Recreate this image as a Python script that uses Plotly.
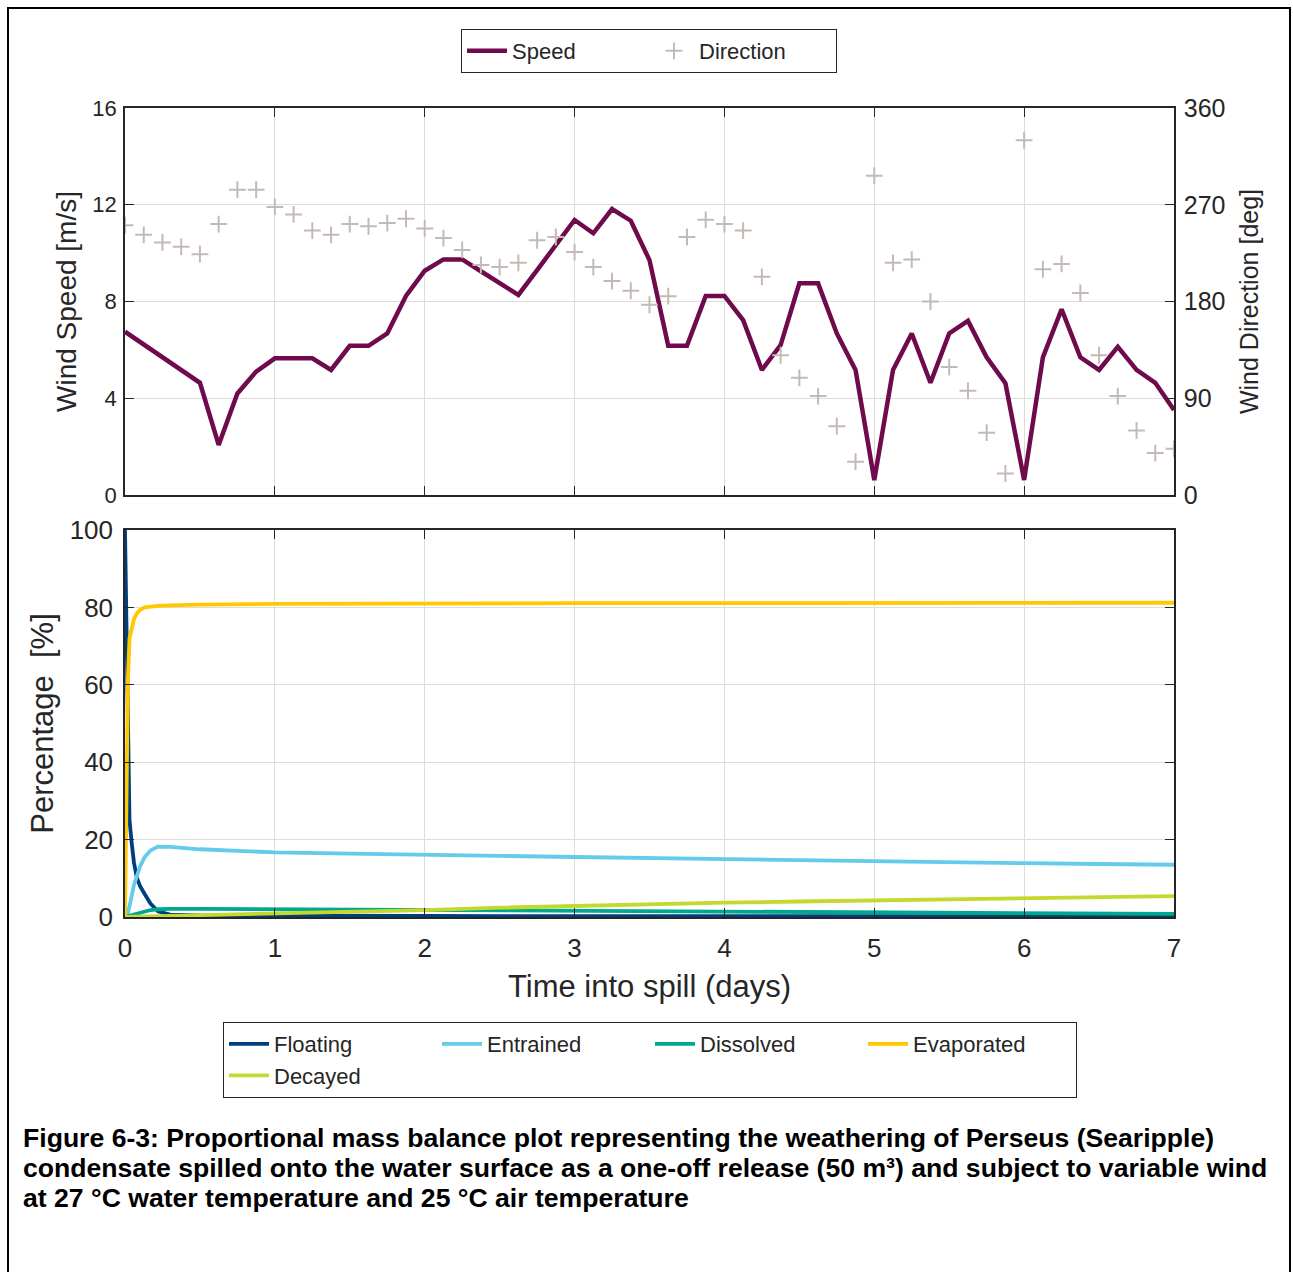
import plotly.graph_objects as go

# ---------------- data ----------------
wind_days = [0, 0.125, 0.25, 0.375, 0.5, 0.625, 0.75, 0.875, 1, 1.125, 1.25, 1.375, 1.5, 1.625, 1.75, 1.875,
             2, 2.125, 2.25, 2.375, 2.5, 2.625, 2.75, 2.875, 3, 3.125, 3.25, 3.375, 3.5, 3.625, 3.75, 3.875,
             4, 4.125, 4.25, 4.375, 4.5, 4.625, 4.75, 4.875, 5, 5.125, 5.25, 5.375, 5.5, 5.625, 5.75, 5.875,
             6, 6.125, 6.25, 6.375, 6.5, 6.625, 6.75, 6.875, 7]
wind_speed = [6.75, 6.22, 5.70, 5.17, 4.64, 2.07, 4.2, 5.1, 5.65, 5.65, 5.65, 5.17, 6.17, 6.17, 6.68, 8.23,
              9.27, 9.74, 9.74, 9.25, 8.76, 8.27, 9.3, 10.33, 11.37, 10.82, 11.82, 11.34, 9.71, 6.17, 6.17, 8.23,
              8.23, 7.23, 5.17, 6.2, 8.75, 8.75, 6.68, 5.17, 0.62, 5.17, 6.68, 4.64, 6.68, 7.2, 5.69, 4.62,
              0.62, 5.69, 7.68, 5.69, 5.17, 6.13, 5.17, 4.64, 3.51]
wind_dir = [251, 242, 235, 231, 224, 252, 284, 284, 268, 261, 246, 242, 252, 250, 253, 257,
            248, 239, 228, 214, 212, 216, 237, 240, 226, 212, 199, 190, 177, 185, 240, 256,
            252, 246, 203, 130, 109, 92, 64, 31, 297, 216, 219, 180, 119, 97, 58, 20,
            330, 210, 215, 188, 130, 92, 60, 39, 43]

mb_days = [0, 0.01, 0.02, 0.03, 0.045, 0.06, 0.08, 0.1, 0.13, 0.17, 0.22, 0.3, 0.5, 1, 1.5, 2,
           2.5, 3, 3.5, 4, 4.5, 5, 5.5, 6, 6.5, 7]
floating = [100, 72, 40, 25, 19, 14, 10, 8, 6, 3.5, 1.5, 0.6, 0.4, 0.3, 0.3, 0.3,
            0.25, 0.25, 0.2, 0.2, 0.2, 0.2, 0.2, 0.2, 0.2, 0.2]
entrained = [0, 0.3, 1, 2.5, 5.5, 8.3, 11, 13, 15.4, 17.2, 18.2, 18.1, 17.5, 16.7, 16.4, 16.0,
             15.8, 15.5, 15.2, 14.9, 14.6, 14.3, 14.1, 13.9, 13.7, 13.5]
dissolved = [0, 0.1, 0.2, 0.4, 0.6, 0.8, 1.0, 1.2, 1.5, 1.8, 2.0, 2.1, 2.1, 2.0, 1.9, 1.7,
             1.6, 1.5, 1.35, 1.25, 1.1, 1.0, 0.95, 0.9, 0.85, 0.8]
evaporated = [0, 30, 62, 72, 75, 77, 78.5, 79.3, 80, 80.2, 80.4, 80.5, 80.7, 80.9, 81.0, 81.0,
              81.0, 81.1, 81.1, 81.1, 81.1, 81.2, 81.2, 81.2, 81.2, 81.2]
decayed = [0, 0, 0, 0.01, 0.02, 0.03, 0.05, 0.07, 0.1, 0.15, 0.2, 0.3, 0.45, 0.85, 1.3, 1.8,
           2.4, 2.9, 3.3, 3.7, 4.0, 4.3, 4.6, 4.9, 5.2, 5.4]

mb_names = ["Floating", "Entrained", "Dissolved", "Evaporated", "Decayed"]
mb_colors = ["#003F7D", "#64CBEA", "#00A88E", "#FFC800", "#C4D92E"]
mb_series = [floating, entrained, dissolved, evaporated, decayed]

caption_lines = [
    "Figure 6-3: Proportional mass balance plot representing the weathering of Perseus (Searipple)",
    "condensate spilled onto the water surface as a one-off release (50 m³) and subject to variable wind",
    "at 27 °C water temperature and 25 °C air temperature",
]

# ---------------- geometry ----------------
W, H = 1293, 1272
L, R, T, B = 125, 119, 108, 355
PW, PH = W - L - R, H - T - B


def px_x(x):
    return (x - L) / PW


def px_y(y):
    return (H - B - y) / PH


FONT = "Liberation Sans, Arial, sans-serif"
AX = "#262626"
GRID = "#DCDCDC"

fig = go.Figure()

fig.add_trace(go.Scatter(x=wind_days, y=wind_speed, mode="lines", name="Speed",
                         line=dict(color="#6F0A4C", width=4.5),
                         xaxis="x", yaxis="y", legend="legend"))
fig.add_trace(go.Scatter(x=wind_days, y=wind_dir, mode="markers", name="Direction",
                         marker=dict(symbol="cross-thin", size=12,
                                     line=dict(color="#C4BAB5", width=2), color="#C4BAB5"),
                         xaxis="x", yaxis="y3", legend="legend"))

for name, col, vals in zip(mb_names, mb_colors, mb_series):
    fig.add_trace(go.Scatter(x=mb_days, y=vals, mode="lines", name=name,
                             line=dict(color=col, width=3.8),
                             xaxis="x2", yaxis="y2", legend="legend2"))


def tf(size):
    return dict(family=FONT, size=size, color="#262626")


common_x = dict(range=[0, 7], dtick=1, tick0=0, showgrid=True, gridcolor=GRID, gridwidth=1,
                showline=True, linecolor=AX, linewidth=1.5, mirror="ticks", ticks="inside",
                ticklen=9, tickcolor=AX, zeroline=False)
common_y = dict(gridcolor=GRID, gridwidth=1, showline=True, linecolor=AX,
                linewidth=1.5, ticks="inside", ticklen=9, tickcolor=AX, zeroline=False)

top_dom = [px_y(495), 1]
bot_dom = [0, px_y(530)]

fig.update_layout(
    width=W, height=H,
    margin=dict(l=L, r=R, t=T, b=B),
    paper_bgcolor="white", plot_bgcolor="white",
    font=dict(family=FONT, color="#262626"),
    xaxis=dict(**common_x, anchor="y", domain=[0, 1], showticklabels=False),
    yaxis=dict(**common_y, showgrid=True, domain=top_dom, range=[0, 16], dtick=4, mirror="ticks",
               tickfont=tf(22), ticklabelstandoff=2,
               title=dict(text="Wind Speed [m/s]", font=tf(28), standoff=8)),
    yaxis3=dict(**common_y, overlaying="y", side="right", anchor="x", range=[0, 360], dtick=90,
                showgrid=False, tickfont=tf(25), ticklabelstandoff=3,
                title=dict(text="Wind Direction [deg]", font=tf(25), standoff=16)),
    xaxis2=dict(**common_x, anchor="y2", domain=[0, 1], tickfont=tf(26), ticklabelstandoff=7,
                title=dict(text="Time into spill (days)", font=tf(31), standoff=13)),
    yaxis2=dict(**common_y, showgrid=True, domain=bot_dom, range=[0, 100], dtick=20, mirror="ticks",
                anchor="x2", tickfont=tf(26), ticklabelstandoff=5,
                title=dict(text="Percentage  [%]", font=tf(31), standoff=7)),
    legend=dict(orientation="h", x=px_x(649), y=px_y(51), xanchor="center", yanchor="middle",
                bgcolor="white", bordercolor=AX, borderwidth=1,
                font=tf(22), entrywidth=132, itemwidth=40),
    legend2=dict(orientation="h", x=px_x(650), y=px_y(1060), xanchor="center", yanchor="middle",
                 bgcolor="white", bordercolor=AX, borderwidth=1,
                 font=tf(22), entrywidth=158, itemwidth=40),
    showlegend=True,
)

for i, line in enumerate(caption_lines):
    fig.add_annotation(text="<b>" + line + "</b>", xref="paper", yref="paper",
                       x=px_x(21), y=px_y(1138 + 30 * i),
                       xanchor="left", yanchor="middle", align="left", showarrow=False,
                       font=dict(family=FONT, size=26.6, color="black"))

fig.add_shape(type="rect", xref="paper", yref="paper",
              x0=px_x(8), x1=px_x(1290), y0=px_y(1290), y1=px_y(8),
              line=dict(color="black", width=2), fillcolor="rgba(0,0,0,0)", layer="above")

fig.write_html("out.html")
